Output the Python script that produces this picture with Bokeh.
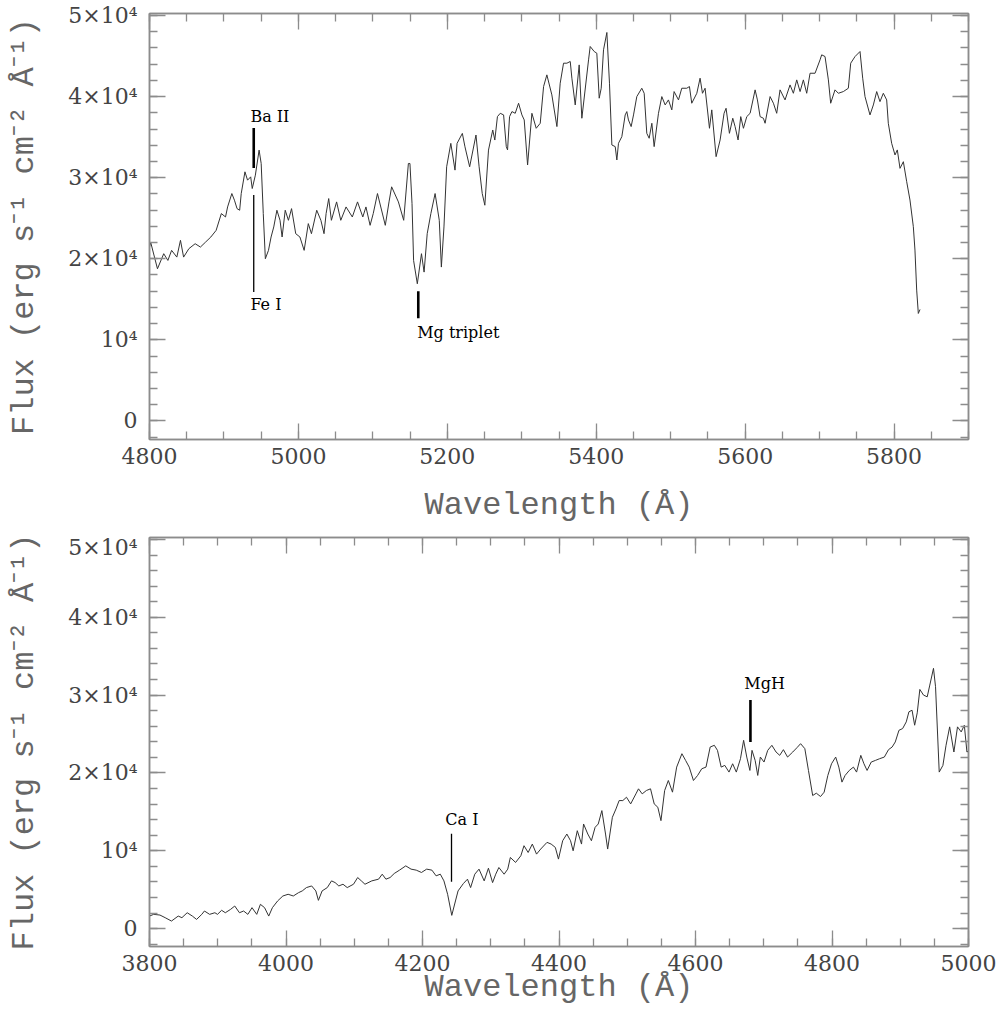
from bokeh.plotting import figure
from bokeh.models import FixedTicker, LinearAxis, Range1d
from bokeh.layouts import column
from bokeh.embed import file_html
from bokeh.resources import INLINE
from bokeh.core.properties import value

# ---------------- data: red part of the spectrum (top panel) ----------------
wl_red = [
    4800.0, 4801.5, 4810.7, 4819.1, 4824.7, 4829.7, 4836.7, 4841.6, 4845.8, 4852.9,
    4861.3, 4868.4, 4875.4, 4882.4, 4889.5, 4896.5, 4902.1, 4904.9, 4910.6, 4914.1,
    4917.6, 4921.1, 4923.2, 4928.2, 4931.7, 4935.9, 4938.0, 4942.2, 4947.2, 4950.0,
    4952.8, 4955.6, 4959.8, 4963.3, 4966.9, 4971.1, 4975.3, 4978.1, 4982.3, 4986.6,
    4990.8, 4996.4, 5002.0, 5007.7, 5013.3, 5017.5, 5024.6, 5030.2, 5034.4, 5037.2,
    5040.7, 5044.3, 5051.3, 5056.9, 5064.0, 5072.4, 5079.4, 5086.5, 5090.7, 5096.3,
    5100.5, 5106.2, 5116.7, 5121.7, 5125.2, 5134.3, 5141.4, 5147.7, 5149.8, 5152.6,
    5154.7, 5159.7, 5165.3, 5168.8, 5173.0, 5177.9, 5183.6, 5189.2, 5192.0, 5195.5,
    5199.1, 5204.7, 5210.3, 5213.1, 5220.2, 5223.7, 5230.0, 5238.5, 5242.7, 5246.9,
    5250.4, 5255.3, 5261.0, 5263.8, 5267.3,
    5271.1, 5275.6, 5279.2, 5280.9, 5283.6, 5286.8, 5291.2, 5295.7, 5300.2, 5303.3,
    5307.8, 5313.6, 5319.4, 5324.8, 5329.3, 5333.7, 5340.4, 5347.2, 5351.6, 5356.1,
    5360.6, 5365.1, 5367.3, 5371.8, 5377.1, 5380.7, 5389.7, 5391.9, 5397.3, 5400.8,
    5404.0, 5406.7, 5409.8, 5414.3, 5417.8, 5421.0, 5425.5, 5427.7, 5429.9, 5434.4,
    5438.9, 5441.1, 5443.3, 5446.9, 5450.1, 5454.5, 5461.2, 5464.4, 5467.9, 5471.1,
    5474.7, 5477.8, 5483.6, 5488.1, 5492.6, 5497.0, 5501.5, 5504.6, 5510.5, 5514.9,
    5521.6, 5525.2, 5528.3, 5535.1, 5539.5, 5542.7, 5546.2, 5552.1, 5555.2, 5561.0,
    5566.4, 5571.7, 5574.4, 5578.9, 5583.4, 5586.5, 5590.5, 5594.1, 5597.7, 5602.2,
    5606.7, 5613.4, 5616.5, 5620.1, 5624.5, 5626.8, 5633.5, 5638.0, 5642.4, 5646.9,
    5653.6, 5660.3, 5664.8, 5669.3, 5673.8, 5678.2, 5682.7, 5687.2, 5693.9, 5700.6,
    5702.8, 5707.3, 5711.8, 5714.9, 5720.7, 5725.2, 5731.9, 5738.6, 5741.8, 5747.6,
    5754.3, 5757.9, 5761.0, 5767.7, 5772.2, 5776.7, 5781.1, 5785.6, 5790.1, 5792.3,
    5796.8, 5801.3, 5804.4, 5808.0, 5812.5, 5817.0, 5821.4, 5825.9, 5828.1, 5830.4,
    5832.6, 5834.9,
]
flux_red = [
    21440, 22060, 18760, 20620, 19790, 21030, 20200, 22270, 20200, 21240,
    21850, 21440, 22060, 22680, 23500, 25570, 25150, 26390, 28040, 27220,
    26180, 25980, 28040, 30720, 29690, 30100, 28660, 30310, 33400, 31750,
    25570, 20000, 21030, 22680, 23920, 25980, 24740, 22680, 25980, 24740,
    26180, 23090, 22680, 21030, 24330, 23090, 25980, 24740, 23090, 25570,
    27420, 24740, 27010, 24740, 26390, 25150, 27010, 25150, 26390, 24120,
    25570, 28040, 24120, 27010, 28870, 27010, 24740, 31750, 31750, 26800,
    19790, 16910, 20620, 18350, 23090, 25570, 28040, 24740, 18970, 23920,
    31340, 34230, 30930, 34230, 35460, 33810, 31340, 35260, 31340, 28040,
    26600, 33400, 35880, 34640, 37530,
    37940, 37740, 33830, 33420, 37530, 38150, 37940, 39180, 37740, 37120,
    31560, 37940, 36090, 36710, 41240, 42680, 40210, 36300, 41650, 44120,
    44120, 44330, 42270, 38970, 43910, 37330, 44530, 46180, 45560, 45350,
    39800, 41030, 45770, 47910, 41650, 34030, 33830, 32180, 34240, 35060,
    37740, 38150, 37120, 36300, 37740, 40000, 41030, 40410, 35470, 34860,
    36710, 33830, 37940, 40000, 38970, 39590, 38360, 40620, 39590, 41030,
    41030, 41240, 39180, 40410, 42270, 40410, 41030, 36090, 38360, 32590,
    34650, 37940, 38560, 35470, 37330, 36300, 34650, 37530, 36090, 37530,
    37940, 40830, 39590, 37530, 37330, 36710, 40000, 39180, 37940, 40830,
    39590, 41440, 40410, 42060, 40620, 42060, 40410, 42880, 42880, 44530,
    45150, 44940, 42060, 39180, 40830, 40410, 40620, 41030, 44120, 44940,
    45560, 42270, 40000, 37740, 38970, 40620, 39380, 40410, 39590, 36710,
    34240, 32800, 33420, 31150, 31970, 29500, 27240, 23950, 21070, 16130,
    13250, 13740,
]

# ---------------- data: blue part of the spectrum (bottom panel) ----------------
wl_blue = [
    3800.0, 3806.1, 3815.3, 3823.0, 3832.2, 3842.1, 3847.5, 3855.2, 3862.8, 3869.0,
    3876.6, 3880.5, 3888.1, 3895.8, 3899.6, 3905.7, 3911.1, 3918.8, 3924.9, 3931.8,
    3937.9, 3944.1, 3950.2, 3957.1, 3962.5, 3968.6, 3974.7, 3980.1, 3987.7, 3995.4,
    4003.1, 4010.7, 4018.4, 4023.8, 4029.9, 4037.6, 4043.7, 4047.5, 4052.9, 4060.5,
    4066.7, 4072.0, 4077.4, 4083.5, 4089.7, 4098.9, 4105.0, 4110.4, 4115.7, 4125.7,
    4135.6, 4141.0, 4146.4, 4152.5, 4158.6, 4166.3, 4175.5, 4183.2, 4190.8, 4198.5,
    4206.1, 4213.8, 4219.9, 4226.1, 4231.4, 4236.8, 4242.9, 4248.3, 4252.1, 4259.8,
    4265.9, 4270.5, 4276.6, 4282.8, 4290.4, 4296.6, 4302.7, 4307.3, 4311.9, 4319.6,
    4324.9, 4328.7, 4336.4, 4344.1, 4348.7, 4354.8, 4360.9, 4367.1, 4373.2, 4382.4,
    4388.5, 4394.6, 4399.2, 4405.4, 4411.5, 4416.9, 4420.7, 4426.8, 4433.0, 4436.0,
    4442.2, 4447.5, 4452.9, 4457.5, 4462.8, 4468.2, 4471.3, 4478.2, 4483.5, 4488.1,
    4493.5, 4498.9, 4505.0, 4512.7, 4516.5, 4521.9, 4528.0, 4534.1, 4539.5, 4544.8,
    4549.4, 4554.8, 4560.2, 4566.3, 4572.4, 4580.1, 4585.5, 4590.8, 4597.0, 4603.1,
    4609.2, 4615.4, 4621.5, 4627.6, 4632.2, 4637.6, 4642.9, 4649.1, 4654.4, 4659.8,
    4665.9, 4670.5, 4675.1, 4679.7, 4682.8, 4687.4, 4691.2, 4695.0, 4700.4, 4705.8,
    4711.9, 4718.0, 4723.4, 4728.8, 4734.9, 4742.5, 4748.7, 4754.0, 4760.2, 4765.5,
    4771.7, 4777.0, 4783.2, 4788.5, 4793.9, 4799.3, 4805.4, 4810.0, 4814.6, 4819.2,
    4825.3, 4831.4, 4836.0, 4842.2, 4846.8, 4851.4, 4857.5, 4863.6, 4869.8, 4876.7,
    4882.8, 4888.1, 4892.7, 4898.1, 4903.5, 4908.8, 4912.7, 4917.3, 4921.1, 4924.9,
    4928.7, 4934.1, 4939.5, 4943.3, 4948.7, 4951.7, 4957.1, 4962.5, 4967.1, 4972.4,
    4978.6, 4983.9, 4989.3, 4993.9, 4997.7, 5000.0,
]
flux_blue = [
    1610, 1830, 1740, 1400, 970, 1610, 1400, 2040, 1610, 1180,
    1830, 2260, 1830, 2040, 1830, 2350, 2040, 2470, 2900, 2040,
    2260, 1830, 2690, 1830, 3120, 2690, 1610, 2690, 3550, 4190,
    4410, 4190, 4620, 4840, 5270, 5480, 4840, 3630, 4840, 5270,
    6130, 5910, 5480, 5700, 5270, 5700, 6560, 6130, 5700, 6130,
    6350, 6990, 6350, 6560, 7080, 7510, 8060, 7640, 7510, 7210,
    7640, 7510, 6780, 6990, 6130, 4410, 1700, 3550, 4840, 5780,
    6350, 5270, 6990, 7640, 6130, 7760, 5910, 6990, 7850, 6990,
    7640, 9140, 8500, 9360, 10650, 9780, 10860, 9570, 10220, 11080,
    10860, 10430, 8930, 11290, 12150, 11290, 10000, 12580, 10860, 13440,
    12150, 11290, 13010, 13440, 15160, 12150, 10220, 14300, 15380, 16450,
    16450, 16880, 16020, 17310, 17960, 17310, 17740, 17960, 16020, 15590,
    13870, 17740, 19030, 17530, 20750, 22470, 21610, 20750, 19030, 19680,
    20540, 20750, 23330, 23550, 22900, 20750, 20970, 20110, 21180, 20110,
    21830, 24190, 22040, 20320, 22900, 21610, 19680, 22040, 21400, 22900,
    23550, 22690, 22260, 22990, 22040, 22690, 23250, 23760, 23120, 20320,
    17100, 17400, 16970, 17530, 19680, 21180, 22040, 20750, 18820, 19680,
    20320, 20750, 20110, 22260, 21180, 20320, 21400, 21610, 21830, 22040,
    22990, 23330, 23980, 25480, 25700, 26560, 27850, 28060, 26130, 27720,
    30730, 30000, 29780, 31290, 33440, 31080, 20110, 20970, 23550, 25920,
    22690, 25920, 25270, 26130, 22690, 22800,
]

# ---------------- line identifications ----------------
red_names = ["Ba II", "Fe I", "Mg triplet"]
red_line_wl = [4940, 4940, 5161]
red_line_lo = [31190, 15880, 12670]
red_line_hi = [36130, 27860, 16000]
red_line_w = [2.6, 1.3, 2.6]
red_text_x = [4935.5, 4935.5, 5159.5]
red_text_y = [37490, 14400, 10940]

blue_names = ["Ca I", "MgH"]
blue_line_wl = [4242.5, 4680.5]
blue_line_lo = [6030, 23970]
blue_line_hi = [12180, 29360]
blue_line_w = [1.3, 2.6]
blue_text_x = [4233.5, 4671.5]
blue_text_y = [13970, 31540]

# ---------------- axes ----------------
y_ticks = [0, 10000, 20000, 30000, 40000, 50000]
y_tick_labels = ["0", "10⁴", "2×10⁴", "3×10⁴", "4×10⁴", "5×10⁴"]
y_minor = list(range(-2000, 50001, 2000))
x_ticks_red = [4800, 5000, 5200, 5400, 5600, 5800]
x_minor_red = list(range(4800, 5901, 50))
x_ticks_blue = [3800, 4000, 4200, 4400, 4600, 4800, 5000]
x_minor_blue = list(range(3800, 5001, 50))

FRAME_C = "#8c8c8c"
LABEL_C = "#666666"
TICKLAB_C = "#444444"


def style(ax, major, minor, show_labels, overrides=None):
    ax.ticker = FixedTicker(ticks=major, minor_ticks=minor)
    ax.axis_line_color = FRAME_C
    ax.axis_line_width = 1.5
    ax.major_tick_line_color = FRAME_C
    ax.major_tick_line_width = 1.3
    ax.minor_tick_line_color = FRAME_C
    ax.minor_tick_line_width = 1.3
    ax.major_tick_in = 16
    ax.major_tick_out = 0
    ax.minor_tick_in = 8
    ax.minor_tick_out = 0
    if show_labels:
        ax.major_label_text_font = "DejaVu Serif"
        ax.major_label_text_font_size = "22px"
        ax.major_label_text_color = TICKLAB_C
        if overrides:
            ax.major_label_overrides = overrides
    else:
        ax.major_label_overrides = {t: "" for t in major}
        ax.major_label_text_font_size = "1px"
        ax.major_label_standoff = 0


def make_panel(xr, x_major, x_minor, wl, flux, names, lwl, llo, lhi, lw, tx, ty,
               frame_h, top_b, bot_b, xlab_standoff):
    p = figure(frame_width=819, frame_height=frame_h,
               x_range=Range1d(*xr), y_range=Range1d(-2300, 50250),
               output_backend="svg", toolbar_location=None,
               min_border_left=149, min_border_right=30,
               min_border_top=top_b, min_border_bottom=bot_b,
               background_fill_color="white", border_fill_color="white")
    p.grid.visible = False
    p.outline_line_color = FRAME_C
    p.outline_line_width = 1.5

    xax = p.below[0]
    yax = p.left[0]

    style(xax, x_major, x_minor, True)
    xax.major_label_standoff = 8
    style(yax, y_ticks, y_minor, True, dict(zip(y_ticks, y_tick_labels)))
    yax.major_label_standoff = 12

    xax.axis_label = "Wavelength (Å)"
    xax.axis_label_text_font = "Liberation Mono"
    xax.axis_label_text_font_size = "32px"
    xax.axis_label_text_font_style = "normal"
    xax.axis_label_text_color = LABEL_C
    xax.axis_label_standoff = xlab_standoff

    yax.axis_label = "Flux (erg s⁻¹ cm⁻² Å⁻¹)"
    yax.axis_label_text_font = "Liberation Mono"
    yax.axis_label_text_font_size = "32px"
    yax.axis_label_text_font_style = "normal"
    yax.axis_label_text_color = LABEL_C
    yax.axis_label_standoff = 22

    top_ax = LinearAxis()
    style(top_ax, x_major, x_minor, False)
    p.add_layout(top_ax, "above")
    right_ax = LinearAxis()
    style(right_ax, y_ticks, y_minor, False)
    p.add_layout(right_ax, "right")

    p.line(wl, flux, line_color="#333333", line_width=1.0)
    p.segment(x0=lwl, y0=llo, x1=lwl, y1=lhi, line_color="black", line_width=lw)
    p.text(x=tx, y=ty, text=names, text_font=value("DejaVu Serif"),
           text_font_size="16px", text_baseline="middle", text_align="left",
           text_color="black")
    return p


p_top = make_panel((4800, 5900), x_ticks_red, x_minor_red, wl_red, flux_red,
                   red_names, red_line_wl, red_line_lo, red_line_hi, red_line_w,
                   red_text_x, red_text_y, 426, 13, 95, 20)
p_bot = make_panel((3800, 5000), x_ticks_blue, x_minor_blue, wl_blue, flux_blue,
                   blue_names, blue_line_wl, blue_line_lo, blue_line_hi, blue_line_w,
                   blue_text_x, blue_text_y, 409, 3, 60, -5)

layout = column(p_top, p_bot, spacing=0)
open("out.html", "w").write(file_html(layout, INLINE))
